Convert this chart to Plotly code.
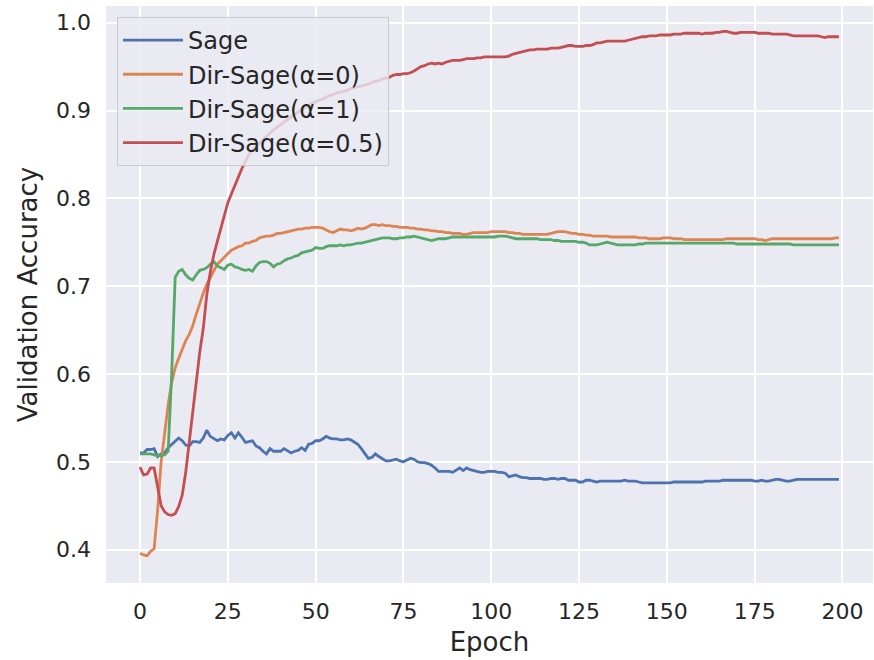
import plotly.graph_objects as go

epochs = list(range(200))

sage = [
    0.510, 0.510, 0.514, 0.514, 0.515, 0.506, 0.509, 0.510, 0.516, 0.520,
    0.523, 0.527, 0.524, 0.519, 0.518, 0.523, 0.523, 0.522, 0.527, 0.536,
    0.529, 0.526, 0.524, 0.526, 0.525, 0.530, 0.533, 0.527, 0.533, 0.528,
    0.522, 0.523, 0.524, 0.518, 0.516, 0.512, 0.509, 0.515, 0.512, 0.512,
    0.512, 0.515, 0.512, 0.510, 0.512, 0.513, 0.516, 0.513, 0.520, 0.521,
    0.524, 0.524, 0.526, 0.529, 0.527, 0.526, 0.526, 0.525, 0.525, 0.526,
    0.525, 0.522, 0.520, 0.515, 0.509, 0.504, 0.505, 0.509, 0.506, 0.503,
    0.501, 0.501, 0.502, 0.503, 0.501, 0.500, 0.502, 0.504, 0.503, 0.500,
    0.499, 0.499, 0.498, 0.496, 0.493, 0.489, 0.489, 0.489, 0.489, 0.488,
    0.491, 0.493, 0.490, 0.493, 0.491, 0.490, 0.489, 0.488, 0.488, 0.489,
    0.489, 0.489, 0.488, 0.488, 0.487, 0.483, 0.484, 0.485, 0.483, 0.482,
    0.482, 0.481, 0.481, 0.481, 0.481, 0.480, 0.480, 0.481, 0.481, 0.480,
    0.481, 0.481, 0.479, 0.479, 0.479, 0.477, 0.477, 0.479, 0.479, 0.478,
    0.477, 0.478, 0.478, 0.478, 0.478, 0.478, 0.478, 0.478, 0.479, 0.478,
    0.478, 0.478, 0.477, 0.476, 0.476, 0.476, 0.476, 0.476, 0.476, 0.476,
    0.476, 0.476, 0.477, 0.477, 0.477, 0.477, 0.477, 0.477, 0.477, 0.477,
    0.477, 0.478, 0.478, 0.478, 0.478, 0.478, 0.479, 0.479, 0.479, 0.479,
    0.479, 0.479, 0.479, 0.479, 0.479, 0.478, 0.478, 0.479, 0.478, 0.478,
    0.479, 0.480, 0.480, 0.479, 0.478, 0.478, 0.479, 0.480, 0.480, 0.480,
    0.480, 0.480, 0.480, 0.480, 0.480, 0.480, 0.480, 0.480, 0.480, 0.480,
]

dir_sage_a0 = [
    0.396, 0.394, 0.393, 0.398, 0.401, 0.445, 0.500, 0.535, 0.565, 0.590,
    0.607, 0.618, 0.628, 0.638, 0.645, 0.655, 0.668, 0.681, 0.692, 0.702,
    0.710, 0.718, 0.725, 0.729, 0.733, 0.738, 0.741, 0.743, 0.745, 0.746,
    0.749, 0.749, 0.751, 0.752, 0.755, 0.756, 0.757, 0.757, 0.758, 0.760,
    0.760, 0.761, 0.762, 0.763, 0.764, 0.765, 0.765, 0.766, 0.766, 0.767,
    0.767, 0.767, 0.766, 0.764, 0.762, 0.761, 0.763, 0.765, 0.764, 0.764,
    0.763, 0.764, 0.766, 0.765, 0.766, 0.768, 0.770, 0.770, 0.769, 0.770,
    0.769, 0.769, 0.768, 0.768, 0.767, 0.767, 0.767, 0.766, 0.766, 0.765,
    0.765, 0.764, 0.764, 0.763, 0.763, 0.762, 0.762, 0.761, 0.761, 0.760,
    0.760, 0.760, 0.759, 0.759, 0.760, 0.761, 0.761, 0.761, 0.761, 0.761,
    0.762, 0.762, 0.762, 0.762, 0.762, 0.761, 0.761, 0.760, 0.760, 0.759,
    0.759, 0.759, 0.759, 0.759, 0.759, 0.759, 0.759, 0.760, 0.761, 0.762,
    0.762, 0.762, 0.761, 0.760, 0.760, 0.759, 0.759, 0.758, 0.758, 0.757,
    0.757, 0.757, 0.757, 0.757, 0.756, 0.756, 0.756, 0.756, 0.756, 0.756,
    0.756, 0.756, 0.755, 0.755, 0.755, 0.754, 0.754, 0.754, 0.754, 0.755,
    0.755, 0.755, 0.754, 0.754, 0.754, 0.753, 0.753, 0.753, 0.753, 0.753,
    0.753, 0.753, 0.753, 0.753, 0.753, 0.753, 0.753, 0.754, 0.754, 0.754,
    0.754, 0.754, 0.754, 0.754, 0.754, 0.754, 0.753, 0.753, 0.752, 0.753,
    0.754, 0.754, 0.754, 0.754, 0.754, 0.754, 0.754, 0.754, 0.754, 0.754,
    0.754, 0.754, 0.754, 0.754, 0.754, 0.754, 0.754, 0.754, 0.755, 0.755,
]

dir_sage_a1 = [
    0.509, 0.509, 0.509, 0.509, 0.508, 0.507, 0.507, 0.508, 0.512, 0.600,
    0.710, 0.717, 0.719, 0.713, 0.709, 0.707, 0.713, 0.718, 0.719, 0.721,
    0.725, 0.728, 0.723, 0.721, 0.719, 0.724, 0.725, 0.722, 0.721, 0.719,
    0.718, 0.719, 0.717, 0.723, 0.727, 0.728, 0.728, 0.726, 0.722, 0.725,
    0.726, 0.729, 0.731, 0.732, 0.734, 0.735, 0.738, 0.739, 0.740, 0.741,
    0.744, 0.743, 0.743, 0.745, 0.746, 0.746, 0.746, 0.747, 0.746, 0.747,
    0.747, 0.748, 0.749, 0.749, 0.750, 0.751, 0.752, 0.753, 0.754, 0.755,
    0.755, 0.755, 0.754, 0.754, 0.755, 0.755, 0.756, 0.756, 0.757, 0.756,
    0.755, 0.754, 0.753, 0.752, 0.753, 0.754, 0.754, 0.754, 0.755, 0.756,
    0.756, 0.756, 0.756, 0.756, 0.756, 0.756, 0.756, 0.756, 0.756, 0.756,
    0.756, 0.756, 0.757, 0.757, 0.757, 0.756, 0.755, 0.754, 0.754, 0.754,
    0.754, 0.754, 0.754, 0.754, 0.753, 0.753, 0.753, 0.753, 0.752, 0.752,
    0.751, 0.751, 0.751, 0.751, 0.751, 0.750, 0.750, 0.749, 0.747, 0.747,
    0.747, 0.748, 0.749, 0.750, 0.749, 0.748, 0.747, 0.747, 0.747, 0.747,
    0.747, 0.747, 0.748, 0.748, 0.749, 0.749, 0.749, 0.749, 0.749, 0.749,
    0.749, 0.749, 0.749, 0.749, 0.749, 0.749, 0.749, 0.749, 0.749, 0.749,
    0.749, 0.749, 0.749, 0.749, 0.749, 0.749, 0.749, 0.749, 0.749, 0.749,
    0.748, 0.748, 0.748, 0.748, 0.748, 0.748, 0.748, 0.748, 0.748, 0.748,
    0.748, 0.748, 0.748, 0.748, 0.748, 0.748, 0.747, 0.747, 0.747, 0.747,
    0.747, 0.747, 0.747, 0.747, 0.747, 0.747, 0.747, 0.747, 0.747, 0.747,
]

dir_sage_a05 = [
    0.494, 0.485, 0.486, 0.493, 0.493, 0.472, 0.450, 0.443, 0.440, 0.439,
    0.441, 0.449, 0.462, 0.488, 0.522, 0.558, 0.590, 0.625, 0.652, 0.690,
    0.716, 0.736, 0.751, 0.766, 0.781, 0.795, 0.805, 0.815, 0.824, 0.834,
    0.842, 0.850, 0.855, 0.859, 0.863, 0.867, 0.871, 0.875, 0.878, 0.881,
    0.884, 0.887, 0.890, 0.893, 0.896, 0.899, 0.902, 0.904, 0.906, 0.908,
    0.910, 0.912, 0.913, 0.915, 0.917, 0.918, 0.920, 0.921, 0.922, 0.923,
    0.925, 0.926, 0.927, 0.928, 0.929, 0.930, 0.932, 0.933, 0.934, 0.936,
    0.937, 0.938, 0.940, 0.941, 0.941, 0.942, 0.942, 0.943, 0.945, 0.948,
    0.950, 0.951, 0.953, 0.954, 0.953, 0.954, 0.953, 0.955, 0.956, 0.957,
    0.957, 0.957, 0.958, 0.959, 0.959, 0.959, 0.960, 0.960, 0.961, 0.961,
    0.961, 0.961, 0.961, 0.961, 0.961, 0.962, 0.964, 0.965, 0.966, 0.967,
    0.968, 0.969, 0.969, 0.970, 0.970, 0.970, 0.970, 0.971, 0.971, 0.971,
    0.972, 0.973, 0.974, 0.974, 0.973, 0.973, 0.973, 0.974, 0.974, 0.975,
    0.977, 0.977, 0.978, 0.979, 0.979, 0.979, 0.979, 0.979, 0.979, 0.980,
    0.981, 0.982, 0.983, 0.984, 0.984, 0.985, 0.985, 0.985, 0.986, 0.986,
    0.986, 0.986, 0.987, 0.987, 0.987, 0.988, 0.988, 0.988, 0.988, 0.988,
    0.987, 0.988, 0.988, 0.988, 0.989, 0.989, 0.990, 0.990, 0.989, 0.988,
    0.988, 0.989, 0.989, 0.989, 0.989, 0.989, 0.988, 0.988, 0.988, 0.988,
    0.987, 0.987, 0.987, 0.987, 0.987, 0.986, 0.985, 0.985, 0.985, 0.985,
    0.985, 0.985, 0.985, 0.985, 0.984, 0.983, 0.984, 0.984, 0.984, 0.984,
]

series_names = ["Sage", "Dir-Sage(α=0)", "Dir-Sage(α=1)", "Dir-Sage(α=0.5)"]
series_values = [sage, dir_sage_a0, dir_sage_a1, dir_sage_a05]
colors = ["#4C72B0", "#DD8452", "#55A868", "#C44E52"]

x_ticks = [0, 25, 50, 75, 100, 125, 150, 175, 200]
y_ticks = [0.4, 0.5, 0.6, 0.7, 0.8, 0.9, 1.0]
y_tick_labels = ["0.4", "0.5", "0.6", "0.7", "0.8", "0.9", "1.0"]

FONT = "DejaVu Sans"
TXT = "#262626"

fig = go.Figure()
for i, (name, vals, col) in enumerate(zip(series_names, series_values, colors)):
    fig.add_trace(go.Scatter(
        x=epochs, y=vals, mode="lines", name=name,
        legendgroup=f"g{i}",
        line=dict(color=col, width=2.8),
    ))

fig.update_layout(
    width=874, height=660,
    margin=dict(l=106, r=1, t=6, b=77),
    paper_bgcolor="white",
    plot_bgcolor="#EAEAF2",
    font=dict(family=FONT, color=TXT, size=22),
    showlegend=True,
    legend=dict(
        x=0.0143, y=0.981, xanchor="left", yanchor="top",
        bgcolor="rgba(234,234,242,0.8)",
        bordercolor="#CCCCCC", borderwidth=1,
        font=dict(family=FONT, size=24, color=TXT),
        tracegroupgap=0,
        itemwidth=60,
    ),
    xaxis=dict(
        range=[-9.7, 208.7], automargin=False,
        tickmode="array", tickvals=x_ticks,
        ticktext=[str(t) for t in x_ticks],
        showgrid=True, gridcolor="white", gridwidth=1.5,
        zeroline=False, showline=False,
        ticks="", ticklabelstandoff=13,
        tickfont=dict(family=FONT, size=22, color=TXT),
        title=dict(text="Epoch", font=dict(family=FONT, size=26, color=TXT), standoff=9),
    ),
    yaxis=dict(
        range=[0.362, 1.019], automargin=False,
        tickmode="array", tickvals=y_ticks, ticktext=y_tick_labels,
        showgrid=True, gridcolor="white", gridwidth=1.5,
        zeroline=False, showline=False,
        ticks="", ticklabelstandoff=14,
        tickfont=dict(family=FONT, size=22, color=TXT),
        title=dict(text="Validation Accuracy", font=dict(family=FONT, size=26, color=TXT), standoff=10),
    ),
)

fig.write_html(
    "out.html",
    config={"displayModeBar": False},
    post_script="document.body.style.margin='0px';",
)
